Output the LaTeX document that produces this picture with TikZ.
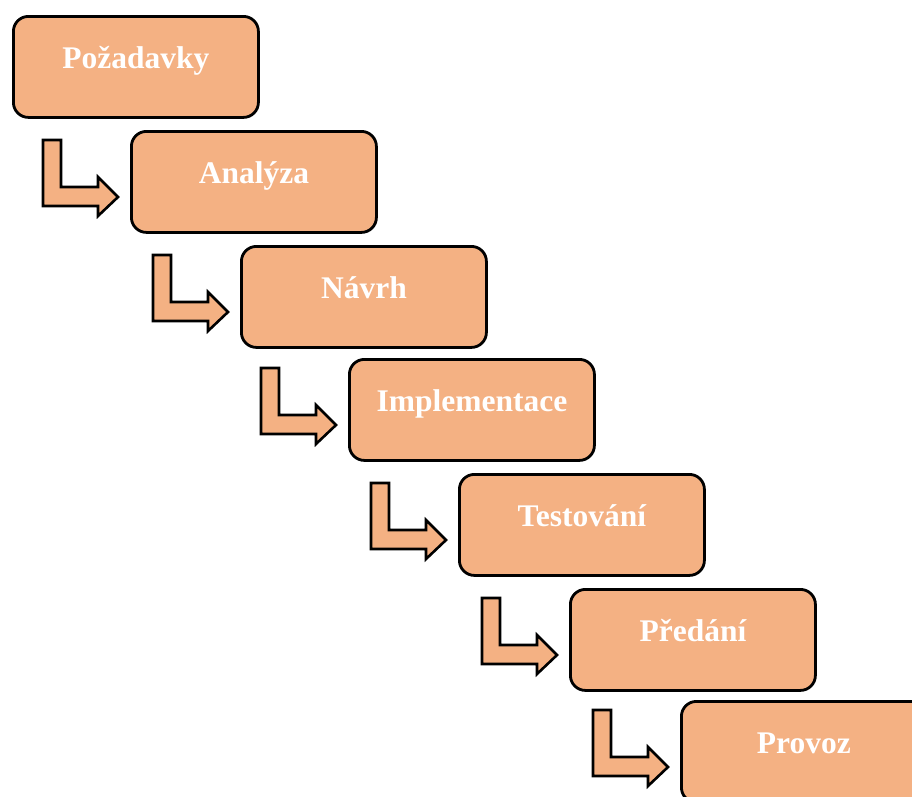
\documentclass[tikz,border=0pt]{standalone}
\usepackage{fontspec}
\setmainfont{Liberation Serif}
\definecolor{stagefill}{HTML}{F4B183}
\tikzset{
  stage/.style={draw=black, line width=2.8pt, fill=stagefill, rounded corners=15pt,
    minimum width=245pt, minimum height=101pt, anchor=north west, inner sep=0pt,
    text=white, text height=21pt, text depth=18pt,
    font=\fontsize{31.5}{36}\selectfont\bfseries},
  stair/.style={draw=black, line width=2.6pt, fill=stagefill, line join=miter}
}
% bent arrow leading into the given stage from the upper left
\newcommand{\stairarrow}[1]{%
  \draw[stair] ([shift={(-87,10)}]#1.north west) -- ++(18,0) -- ++(0,47) -- ++(37,0)
    -- ++(0,-10) -- ++(20,20) -- ++(-20,19) -- ++(0,-10) -- ++(-55,0) -- cycle;}
\begin{document}
\begin{tikzpicture}[x=1pt, y=-1pt]
  \useasboundingbox (0,0) rectangle (912,796);
  \clip (0,0) rectangle (912,796);
  \node[stage] (b1) at (12,15)   {Požadavky};
  \node[stage] (b2) at (130,130) {Analýza};
  \node[stage] (b3) at (240,245) {Návrh};
  \node[stage] (b4) at (348,358) {Implementace};
  \node[stage] (b5) at (458,473) {Testování};
  \node[stage] (b6) at (569,588) {Předání};
  \node[stage] (b7) at (680,700) {Provoz};
  \foreach \n in {b2,b3,b4,b5,b6,b7} {\stairarrow{\n}}
\end{tikzpicture}
\end{document}
